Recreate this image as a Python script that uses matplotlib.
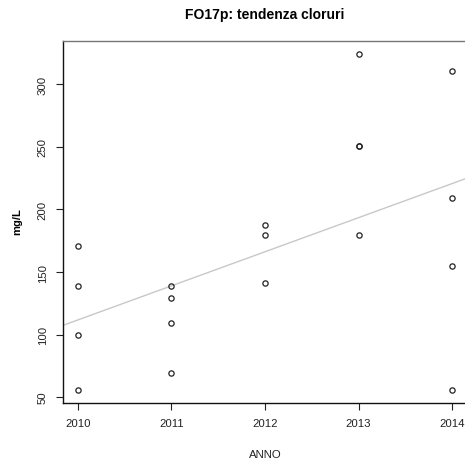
import numpy as np
import matplotlib
matplotlib.use("Agg")
import matplotlib.pyplot as plt

plt.rcParams['font.family'] = ['Liberation Sans', 'DejaVu Sans']

# chloride readings per year (mg/L)
anni = [2010, 2010, 2010, 2010,
        2011, 2011, 2011, 2011,
        2012, 2012, 2012,
        2013, 2013, 2013, 2013,
        2014, 2014, 2014, 2014]
cloruri = [171, 139, 100, 56,
           139, 129, 109, 69,
           188, 180, 141,
           324, 251, 251, 180,
           311, 209, 155, 56]
x_ticks = [2010, 2011, 2012, 2013, 2014]
y_ticks = [50, 100, 150, 200, 250, 300]

W, H = 465, 464
fig = plt.figure(figsize=(W / 100, H / 100), dpi=100)
ax = fig.add_axes([63 / W, (H - 404) / H, (467 - 63) / W, (404 - 42) / H])

x = np.array(anni, dtype=float)
y = np.array(cloruri, dtype=float)

# R-like padding of 4%
xr = x.max() - x.min()
yr = y.max() - y.min()
ax.set_xlim(x.min() - 0.04 * xr, x.max() + 0.04 * xr)
ax.set_ylim(y.min() - 0.04 * yr, y.max() + 0.04 * yr)

# linear trend (abline of lm)
slope, inter = np.polyfit(x, y, 1)
ax.axline((2012, inter + slope * 2012), slope=slope, color='#c8c8c8', lw=1.0, zorder=1)

ax.plot(x, y, 'o', mfc='none', mec='#222222', mew=0.9, ms=3.8, zorder=2)

ax.set_xticks(x_ticks)
ax.set_xticklabels([str(t) for t in x_ticks], fontsize=8.2, color='#222222')
ax.set_yticks(y_ticks)
ax.set_yticklabels([str(t) for t in y_ticks], fontsize=8.2, rotation=90, va='center',
                   color='#222222')
ax.tick_params(axis='both', length=5, width=0.8, color='#222222', pad=6)

for s in ['left', 'bottom']:
    ax.spines[s].set_color('#111111')
    ax.spines[s].set_linewidth(1.0)
for s in ['top', 'right']:
    ax.spines[s].set_color('#777777')
    ax.spines[s].set_linewidth(1.0)

fig.text(265 / W, 1 - 15 / H, "FO17p: tendenza cloruri", ha='center', va='center',
         fontsize=10, fontweight='bold')
fig.text(265 / W, 1 - 455 / H, "ANNO", ha='center', va='center', fontsize=8.2,
         color='#222222')
fig.text(17 / W, 1 - 222 / H, "mg/L", ha='center', va='center', fontsize=8,
         rotation=90, fontweight='bold')

fig.savefig("out.png", dpi=100)
